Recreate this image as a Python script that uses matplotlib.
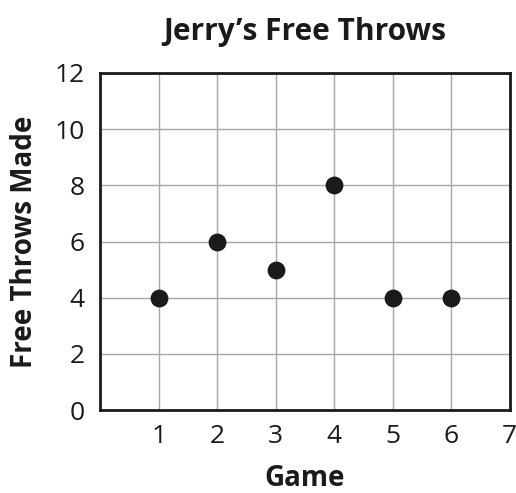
import matplotlib.pyplot as plt

games = [1, 2, 3, 4, 5, 6]
free_throws = [4, 6, 5, 8, 4, 4]
x_ticks = [1, 2, 3, 4, 5, 6, 7]
y_ticks = [0, 2, 4, 6, 8, 10, 12]

plt.rcParams['font.family'] = ['Open Sans', 'DejaVu Sans']

fig = plt.figure(figsize=(5.16, 4.93), dpi=100)
ax = fig.add_axes([0.194, 0.168, 0.794, 0.684])

ax.scatter(games, free_throws, s=140, color='#1a1a1a', zorder=3)

ax.set_xlim(0, 7)
ax.set_ylim(0, 12)
ax.set_xticks(x_ticks)
ax.set_yticks(y_ticks)
ax.tick_params(axis='both', length=0, labelsize=19, colors='#1a1a1a')
ax.tick_params(axis='x', pad=10)
ax.tick_params(axis='y', pad=11)
ax.grid(True, color='#a8a8a8', linewidth=1)
ax.set_axisbelow(True)
for s in ax.spines.values():
    s.set_linewidth(2)
    s.set_color('#1a1a1a')

ax.set_xlabel('Game', fontsize=20, fontweight='bold', labelpad=11, color='#1a1a1a')
ax.set_ylabel('Free Throws Made', fontsize=20, fontweight='bold', labelpad=11, color='#1a1a1a')
ax.set_title('Jerry’s Free Throws', fontsize=21.5, fontweight='bold', pad=24, color='#1a1a1a')

fig.savefig('out.png', dpi=100)
